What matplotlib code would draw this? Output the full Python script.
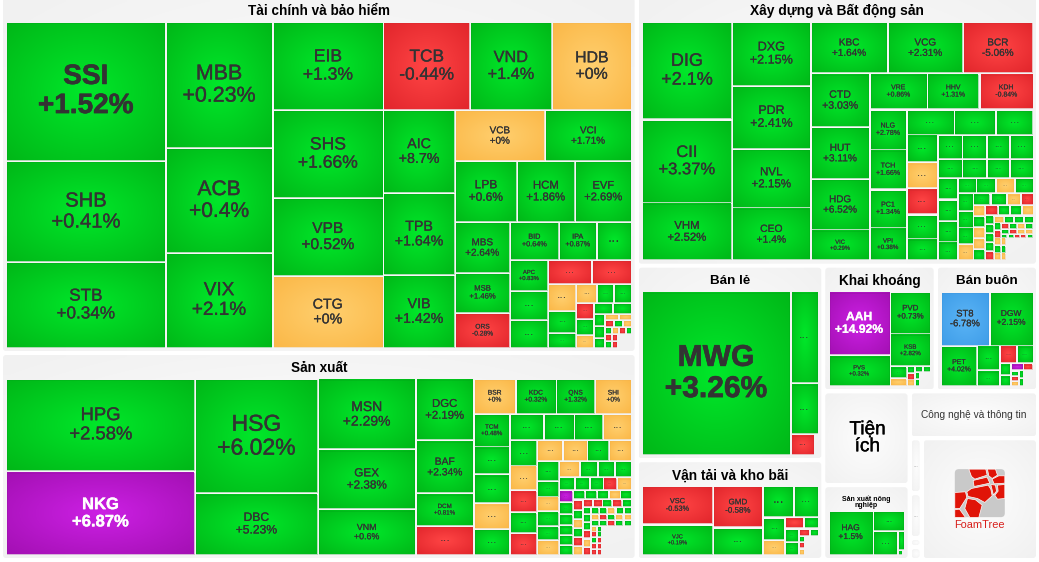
import numpy as np
import matplotlib
matplotlib.use('Agg')
import matplotlib.pyplot as plt
import matplotlib.patheffects as pe
from matplotlib.colors import LinearSegmentedColormap
from matplotlib.patches import FancyBboxPatch, Polygon, Rectangle

plt.rcParams['font.family'] = ['Liberation Sans', 'DejaVu Sans']

finance_names = ['SSI', 'SHB', 'STB', 'MBB', 'ACB', 'VIX', 'EIB', 'SHS', 'VPB', 'CTG', 'TCB', 'VND', 'HDB', 'AIC',
                 'TPB', 'VIB', 'VCB', 'VCI', 'LPB', 'HCM', 'EVF', 'MBS', 'MSB', 'ORS', 'BID', 'IPA', '', 'APC']
finance_values = [22240, 16160, 13760, 13482, 11235, 10165, 9768, 9768, 8658, 7992, 7656, 7216, 7040, 5976,
                  5904, 5256, 4590, 4437, 3782, 3538, 3477, 2805, 2200, 1925, 1862, 1444, 1330, 1178,
                  1102, 1064, 1056, 960, 756, 616, 420, 399, 323, 342, 288, 288, 234, 209, 209,
                  132, 132, 110, 84, 78, 63, 63, 63, 49, 49, 49, 49, 49, 42, 42, 42, 196]
finance_changes = [1.52, 0.41, 0.34, 0.23, 0.4, 2.1, 1.3, 1.66, 0.52, 0, -0.44, 1.4, 0, 8.7,
                   1.64, 1.42, 0, 1.71, 0.6, 1.86, 2.69, 2.64, 1.46, -0.28, 0.64, 0.87, 1, 0.83,
                   1, 1, -1, -1, 0, 1, 1, 0, 1, 1, -1, 1, 0, 1, 1,
                   1, 1, 1, 0, 0, -1, 1, 0, 1, -1, 1, 0, -1, 1, -1, -1, None]
finance_strips = ['c3', 'c3', 'c4', 'r3', 'c3', 'r2', 'r3', 'c3', 'r3', 'c3', 'r2', 'c3', 'r3', 'c3', 'r2',
                  'c3', 'r2', 'r3', 'c3', 'r3', 'c2', 'c1']

making_names = ['HPG', 'NKG', 'HSG', 'DBC', 'MSN', 'GEX', 'VNM', 'DGC', 'BAF', 'DCM', '', 'BSR', 'KDC', 'QNS', 'SHI', 'TCM']
making_values = [17577, 15876, 14145, 7626, 6958, 5880, 4508, 3596, 3074, 1914, 1682, 1470, 1435, 1365, 1295,
                 1188, 1008, 1044, 936, 936, 884, 806, 754, 754, 702, 675, 594, 567, 594, 546, 525, 462, 483,
                 440, 352, 330, 330, 308, 330, 336, 288, 280, 280, 208, 195, 182, 182, 195,
                 168, 168, 154, 140, 140, 140, 108, 108, 104, 104, 104, 100, 90, 86, 86, 86, 86,
                 78, 78, 78, 78, 78, 57, 57, 57, 57, 57, 57, 66, 66, 66, 66, 66,
                 49, 49, 49, 49, 49, 49, 49, 49, 49, 49, 35, 35, 35, 35, 35, 29, 29, 29, 29, 29, 870]
making_changes = [2.58, 6.87, 6.02, 5.23, 2.29, 2.38, 0.6, 2.19, 2.34, 0.81, -1, 0, 0.32, 1.32, 0,
                  0.48, 1, 1, 0, 1, 1, 1, 1, 0, 1, 0, -1, 1, -1, 0, 0, 1, 0,
                  1, 1, 0, 1, 1, 0, 0, 1, 1, 1, 1, 1, 1, -1, 0,
                  7, 1, 1, 1, 1, 1, 1, 1, 1, 0, 1, -1, 1, 0, 1, -1, 0,
                  -1, -1, 1, -1, 1, 1, 1, 1, 0, 1, 1, 1, 1, -1, 0, -1,
                  0, -1, 1, 0, 0, 1, 1, -1, 1, 1, 0, -1, 1, -1, -1, 1, 1, -1, -1, -1, None]
making_strips = ['c2', 'c2', 'c3', 'c4', 'r4', 'c5', 'r4', 'c5', 'r4', 'c6', 'r4', 'r5', 'c6', 'r5', 'c6',
                 'r5', 'r6', 'c5', 'r5', 'r5', 'c5', 'c5', 'c1']

building_names = ['DIG', 'CII', 'VHM', 'DXG', 'PDR', 'NVL', 'CEO', 'KBC', 'VCG', 'BCR', 'CTD', 'HUT', 'HDG', 'VIC',
                  'VRE', 'HHV', 'KDH', 'NLG', 'TCH', 'PC1', 'VPI']
building_values = [8872, 7598, 5278, 5056, 4977, 4661, 4187, 3978, 3876, 3621, 3186, 3068, 3009, 1829,
                   2106, 1908, 1962, 1498, 1480, 1425, 1221, 1212, 1062, 950, 868, 806, 822, 760, 682,
                   600, 600, 552, 576, 475, 475, 437, 456, 430, 430, 420, 380, 285, 300, 285, 285,
                   280, 272, 264, 256, 210, 198, 168, 156, 132, 132, 132, 132, 132, 130, 120, 120, 120,
                   81, 81, 81, 81, 81, 70, 70, 70, 70, 53, 53, 53, 53, 53, 50, 50, 50, 50,
                   41, 41, 41, 41, 26, 26, 26, 26, 26, 37, 37, 37, 616]
building_changes = [2.1, 3.37, 2.52, 2.15, 2.41, 2.15, 1.4, 1.64, 2.31, -5.06, 3.03, 3.11, 6.52, 0.29,
                    0.86, 1.31, -0.84, 2.78, 1.66, 1.34, 0.38, 1, 1, 1, 1, 0, -1, 1, 1,
                    1, 1, 1, 1, 1, 1, 1, 1, 1, 1, 1, 1, 1, 1, 0, 1,
                    1, 1, 1, 0, 1, 1, 0, -1, 0, 1, 0, 0, 1, -1, 1, 1, 0,
                    1, 1, 1, 1, -1, 0, 1, 1, 1, 1, -1, 0, 1, 0, -1, 1, 0, 1,
                    1, -1, 0, 0, 1, 1, -1, -1, 1, 0, 1, 0, None]
building_strips = ['c3', 'c4', 'r3', 'c4', 'r3', 'c4', 'r3', 'c5', 'r4', 'r4', 'c4', 'r4', 'c4', 'r4', 'c5',
                   'r4', 'c5', 'r4', 'c5', 'r4', 'r4', 'r5', 'c3', 'c1']

retail_names = ['MWG']
retail_values = [24600, 2576, 1428, 504, 84]
retail_changes = [3.26, 1, 1, -1, None]
retail_strips = ['c1', 'r1', 'r1', 'r2']

transport_names = ['VSC', 'VJC', 'GMD']
transport_values = [2736, 2160, 2050, 1350, 961, 775, 484, 330, 209, 165, 182, 182, 77, 63, 38, 38, 38, 266]
transport_changes = [-0.53, 0.19, -0.58, 1, 1, 1, 1, 0, -1, 1, 1, 1, -1, 1, 1, -1, 0, None]
transport_strips = ['c2', 'c2', 'r2', 'c2', 'r2', 'c2', 'r2', 'c3', 'c1']

mining_names = ['AAH', 'PVS', 'PVD', 'KSB']
mining_values = [3999, 1953, 1763, 1353, 204, 136, 53, 53, 53, 48, 48, 35, 35, 154]
mining_changes = [14.92, 0.32, 0.73, 2.82, 1, 0, 1, -1, 0, 1, 1, 1, 1, None]
mining_strips = ['c2', 'r1', 'r1', 'c2', 'c3', 'r2', 'c2', 'c1']

wholesale_names = ['ST8', 'DGW', 'PET']
wholesale_values = [2722, 2448, 1517, 575, 368, 306, 306, 132, 121, 91, 70, 43, 43, 43, 40, 40, 160]
wholesale_changes = [-6.78, 2.15, 4.02, 1, 1, -1, 1, 1, 1, 7, -1, 1, -1, 0, 1, 1, None]
wholesale_strips = ['r2', 'c1', 'c2', 'r2', 'c2', 'r2', 'c3', 'c2', 'c1']

farming_names = ['HAG']
farming_values = [1935, 624, 588, 133, 22, 9]
farming_changes = [1.5, 1, 1, 1, 1, None]
farming_strips = ['c1', 'r1', 'c1', 'r1', 'r2']

sector_names = ['Tài chính và bảo hiểm', 'Sản xuất', 'Xây dựng và Bất động sản', 'Bán lẻ', 'Vận tải và kho bãi',
                'Khai khoáng', 'Bán buôn', 'Tiện\ních', 'Sản xuất nông\nnghiệp', 'Công nghệ và thông tin',
                '', '', '', '', 'FoamTree']
sector_values = [226695, 131445, 108138, 36270, 18600, 14112, 12852, 8084, 6450, 6016, 660, 540, 108, 156, 14152]
sector_strips = ['c2', 'r1', 'c2', 'r2', 'c2', 'r1', 'c4', 'c1']

sector_cells = {
    'Tài chính và bảo hiểm': (finance_names, finance_values, finance_changes, finance_strips),
    'Sản xuất': (making_names, making_values, making_changes, making_strips),
    'Xây dựng và Bất động sản': (building_names, building_values, building_changes, building_strips),
    'Bán lẻ': (retail_names, retail_values, retail_changes, retail_strips),
    'Vận tải và kho bãi': (transport_names, transport_values, transport_changes, transport_strips),
    'Khai khoáng': (mining_names, mining_values, mining_changes, mining_strips),
    'Bán buôn': (wholesale_names, wholesale_values, wholesale_changes, wholesale_strips),
    'Sản xuất nông\nnghiệp': (farming_names, farming_values, farming_changes, farming_strips),
}

# no price limit on this one, so it stays green above the ceiling
no_limit = ['AIC']

title_px = {'Tài chính và bảo hiểm': 13.5, 'Sản xuất': 13.5, 'Xây dựng và Bất động sản': 13.7, 'Bán lẻ': 13.4,
            'Vận tải và kho bãi': 13.7, 'Khai khoáng': 13.6, 'Bán buôn': 13.4, 'Sản xuất nông\nnghiệp': 7}

gradients = {
    'up': LinearSegmentedColormap.from_list('up', ['#00e82a', '#00b818']),
    'down': LinearSegmentedColormap.from_list('down', ['#ff4545', '#e2262c']),
    'ref': LinearSegmentedColormap.from_list('ref', ['#ffcf6e', '#fbb848']),
    'ceil': LinearSegmentedColormap.from_list('ceil', ['#cc20e4', '#a410b4']),
    'floor': LinearSegmentedColormap.from_list('floor', ['#5ab4f6', '#3f9de8']),
    'panel': LinearSegmentedColormap.from_list('panel', ['#fdfdfd', '#f1f1f1']),
}
border = {'up': '#00a018', 'down': '#cc2a2e', 'ref': '#eeb050', 'ceil': '#90109c', 'floor': '#3a90d8'}

W, H = 1039, 562
fig = plt.figure(figsize=(W / 100, H / 100), dpi=100, facecolor='white')
ax = fig.add_axes([0, 0, 1, 1])

gx, gy = np.meshgrid(np.linspace(-1, 1, 48), np.linspace(-1, 1, 48))
field = np.hypot(gx, gy) / np.sqrt(2)


def px(size):
    return size * 0.72


def lay_out(values, strips, x0, y0, x1, y1):
    rects = []
    i = 0
    remaining = sum(values)
    for s in strips:
        n = int(s[1:])
        part = values[i:i + n]
        total = sum(part)
        share = total / remaining
        if s[0] == 'c':
            w = (x1 - x0) * share
            pos = y0
            for v in part:
                h = (y1 - y0) * v / total
                rects.append((x0, pos, x0 + w, pos + h))
                pos += h
            x0 += w
        else:
            h = (y1 - y0) * share
            pos = x0
            for v in part:
                w = (x1 - x0) * v / total
                rects.append((pos, y0, pos + w, y0 + h))
                pos += w
            y0 += h
        remaining -= total
        i += n
    return rects


def state_of(name, change):
    if change == 0:
        return 'ref'
    if change >= 6.8 and name not in no_limit:
        return 'ceil'
    if change <= -6.5:
        return 'floor'
    return 'up' if change > 0 else 'down'


def draw_cell(name, change, rect):
    x0, y0, x1, y1 = rect[0] + 1.25, rect[1] + 1.25, rect[2] - 1.25, rect[3] - 1.25
    state = state_of(name, change)
    ax.imshow(field, cmap=gradients[state], extent=(x0, x1, y1, y0), aspect='auto',
              interpolation='bilinear', vmin=0, vmax=1, zorder=2)
    ax.add_patch(Rectangle((x0, y0), x1 - x0, y1 - y0, fill=False, ec=border[state], lw=0.4, alpha=0.5, zorder=3))
    w, h = x1 - x0, y1 - y0
    cx, cy = (x0 + x1) / 2, (y0 + y1) / 2
    side = min(w, h)
    if name:
        size = 0.205 * side
        colour = 'white' if state == 'ceil' else '#333333'
        heavy = size >= 26 or state == 'ceil'
        opts = dict(fontsize=px(size), color=colour, ha='center', va='center', zorder=4)
        if heavy:
            opts['fontweight'] = 'bold'
        stroke = 0.015 * size if heavy else 0.012 * size
        opts['path_effects'] = [pe.withStroke(linewidth=stroke, foreground=colour)]
        ax.text(cx, cy - 0.52 * size, name, **opts)
        ax.text(cx, cy + 0.52 * size, f'{change:+g}%', **opts)
    elif side >= 9:
        size = min(max(0.5 * side, 4), 15)
        ax.text(cx, cy + 0.05 * size, '...', fontsize=px(size), color='#333333',
                alpha=min(1, side / 24), ha='center', va='baseline', zorder=4)


def draw_panel(rect):
    x0, y0, x1, y1 = rect
    box = FancyBboxPatch((x0 + 2, y0 + 2), x1 - x0 - 4, y1 - y0 - 4, boxstyle='round,pad=2,rounding_size=3',
                         fc='none', ec='none', transform=ax.transData)
    ax.add_patch(box)
    im = ax.imshow(field, cmap=gradients['panel'], extent=(x0, x1, y1, y0), aspect='auto',
                   interpolation='bilinear', vmin=0, vmax=1, zorder=1)
    im.set_clip_path(box)


def draw_logo(cx, cy):
    # logo of the layout library, shape traced by eye, unit = one zoomed pixel
    s = 1 / 3
    ox, oy = cx - 25, cy - 30
    ax.add_patch(FancyBboxPatch((ox + 1, oy + 1), 48, 46, boxstyle='round,pad=1,rounding_size=4',
                                fc='#c9c9c9', ec='none', zorder=2))
    cells = [
        [(42, 0), (93, 0), (97, 18), (60, 30), (50, 22)],
        [(98, 0), (122, 0), (128, 18), (112, 28), (102, 20)],
        [(55, 34), (97, 24), (105, 42), (58, 52)],
        [(112, 30), (132, 20), (150, 20), (150, 42), (118, 44)],
        [(50, 58), (100, 48), (108, 60), (112, 80), (90, 100), (68, 88), (40, 82), (36, 68)],
        [(108, 46), (122, 48), (125, 66), (116, 78), (112, 62)],
        [(128, 48), (150, 46), (150, 88), (128, 90), (120, 78), (130, 66)],
        [(0, 70), (32, 68), (36, 85), (15, 118), (0, 118)],
        [(38, 88), (62, 92), (82, 108), (72, 145), (45, 145), (30, 118)],
        [(0, 122), (14, 120), (32, 145), (0, 145)],
    ]
    for pts in cells:
        ax.add_patch(Polygon([(ox + a * s, oy + b * s) for a, b in pts], closed=True, fc='#e01408',
                             ec='white', lw=0.5, zorder=3))
    ax.text(cx, oy + 56, 'FoamTree', fontsize=px(11), color='#d8201c', ha='center', va='center', zorder=4)


sector_rects = lay_out(sector_values, sector_strips, 1, -4, 1038, 560)

for label, rect in zip(sector_names, sector_rects):
    panel = (rect[0] + 2, rect[1] + 2, rect[2] - 2, rect[3] - 2)
    draw_panel(panel)
    cx = (panel[0] + panel[2]) / 2
    cy = (panel[1] + panel[3]) / 2
    if label in sector_cells:
        names, values, changes, strips = sector_cells[label]
        names = names + [''] * (len(values) - len(names))
        rects = lay_out(values, strips, panel[0] + 3, panel[1] + 24, panel[2] - 3, panel[3] - 3)
        for name, change, cell in zip(names, changes, rects):
            if change is not None:
                draw_cell(name, change, cell)
        ax.text(cx, panel[1] + (15 if '\n' in label else 13), label, fontsize=px(title_px[label]), fontweight='bold',
                color='black', ha='center', va='center', linespacing=0.95, zorder=4)
    elif label == 'Tiện\ních':
        ax.text(cx + 1, cy, label, fontsize=px(19), color='black', ha='center', va='center', linespacing=1.0,
                path_effects=[pe.withStroke(linewidth=0.25, foreground='black')], zorder=4)
    elif label == 'Công nghệ và thông tin':
        ax.text(cx, cy, label, fontsize=px(10.1), color='#333333', ha='center', va='center', zorder=4)
    elif label == 'FoamTree':
        draw_logo(cx, cy)
    elif rect[3] - rect[1] > 20:
        ax.text(cx, cy, '...', fontsize=px(6), color='#888888', ha='center', va='center', zorder=4)

ax.set_xlim(0, W)
ax.set_ylim(H, 0)
ax.axis('off')

fig.savefig('out.png', dpi=100, facecolor='white')
